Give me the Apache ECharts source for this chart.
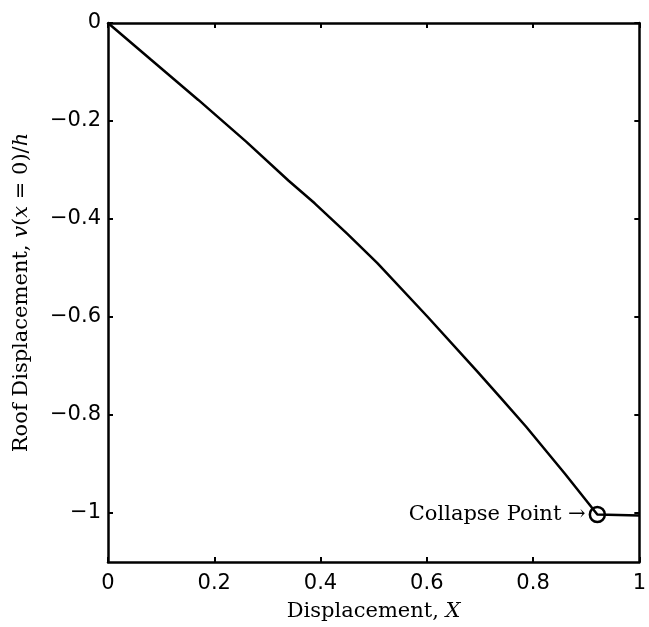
<!DOCTYPE html>
<html>
<head>
<meta charset="utf-8">
<script src="https://cdn.jsdelivr.net/npm/echarts@6/dist/echarts.min.js"></script>
<style>
  html, body { margin: 0; padding: 0; background: #fff; }
  #chart { width: 649px; height: 627px; }
</style>
</head>
<body>
<div id="chart"></div>
<script>
// Roof displacement response against the displacement parameter X
const xValues = [0, 0.08, 0.17, 0.26, 0.34, 0.389, 0.45, 0.507, 0.601, 0.694, 0.74, 0.787, 0.86, 0.921, 1.0];
const yValues = [0, -0.074, -0.157, -0.242, -0.322, -0.368, -0.430, -0.490, -0.599, -0.710, -0.766, -0.824, -0.920, -1.003, -1.005];

// Collapse point marker
const collapseX = [0.921];
const collapseY = [-1.003];
const collapseText = 'Collapse Point \u2192';

// Axis ticks
const xTicks = [0, 0.2, 0.4, 0.6, 0.8, 1];
const yTicks = [0, -0.2, -0.4, -0.6, -0.8, -1];

const sansFont = 'DejaVu Sans';
const serifFont = 'DejaVu Serif';

const fmt = v => String(+v.toFixed(2)).replace('-', '\u2212');

const lineData = xValues.map((x, i) => [x, yValues[i]]);
const collapseData = collapseX.map((x, i) => [x, collapseY[i]]);

const frameLine = { show: true, onZero: false, lineStyle: { color: '#000', width: 2.5 } };
const innerTick = (vals) => ({ show: true, inside: true, length: 5, customValues: vals, lineStyle: { color: '#000', width: 2 } });

const chart = echarts.init(document.getElementById('chart'), null, { renderer: 'canvas' });
chart.setOption({
  animation: false,
  backgroundColor: '#fff',
  grid: { left: 108, right: 4, top: 23, bottom: 65, containLabel: false },
  xAxis: [
    {
      type: 'value', min: 0, max: 1, position: 'bottom',
      axisLine: frameLine,
      axisTick: innerTick(xTicks),
      splitLine: { show: false },
      axisLabel: {
        customValues: xTicks, formatter: fmt, margin: 11,
        color: '#000', fontFamily: sansFont, fontSize: 21
      },
      name: '{t|Displacement, }{i|X}',
      nameLocation: 'middle', nameGap: 39,
      nameTextStyle: {
        rich: {
          t: { fontFamily: serifFont, fontSize: 21, color: '#000' },
          i: { fontFamily: serifFont, fontSize: 21, fontStyle: 'italic', color: '#000' }
        }
      }
    },
    {
      type: 'value', min: 0, max: 1, position: 'top',
      axisLine: frameLine,
      axisTick: innerTick(xTicks),
      axisLabel: { show: false },
      splitLine: { show: false }
    }
  ],
  yAxis: [
    {
      type: 'value', min: -1.1, max: 0, position: 'left',
      axisLine: frameLine,
      axisTick: innerTick(yTicks),
      splitLine: { show: false },
      axisLabel: {
        customValues: yTicks, formatter: fmt, margin: 7,
        color: '#000', fontFamily: sansFont, fontSize: 21
      },
      name: '{t|Roof Displacement, }{i|v}{t|(}{i|x}{t| = 0)/}{i|h}',
      nameLocation: 'middle', nameGap: 76, nameRotate: 90,
      nameTextStyle: {
        rich: {
          t: { fontFamily: serifFont, fontSize: 21, color: '#000' },
          i: { fontFamily: serifFont, fontSize: 21, fontStyle: 'italic', color: '#000' }
        }
      }
    },
    {
      type: 'value', min: -1.1, max: 0, position: 'right',
      axisLine: frameLine,
      axisTick: innerTick(yTicks),
      axisLabel: { show: false },
      splitLine: { show: false }
    }
  ],
  series: [
    {
      type: 'line',
      data: lineData,
      showSymbol: false,
      symbol: 'none',
      lineStyle: { color: '#000', width: 2.5 },
      z: 3
    },
    {
      type: 'scatter',
      data: collapseData,
      symbol: 'circle',
      symbolSize: 15,
      itemStyle: { color: 'rgba(0,0,0,0)', borderColor: '#000', borderWidth: 2.5, opacity: 1 },
      label: {
        show: true, position: 'left', distance: 3,
        formatter: collapseText,
        color: '#000', opacity: 1, fontFamily: serifFont, fontSize: 21
      },
      emphasis: { disabled: true },
      z: 4
    }
  ]
});
</script>
</body>
</html>
